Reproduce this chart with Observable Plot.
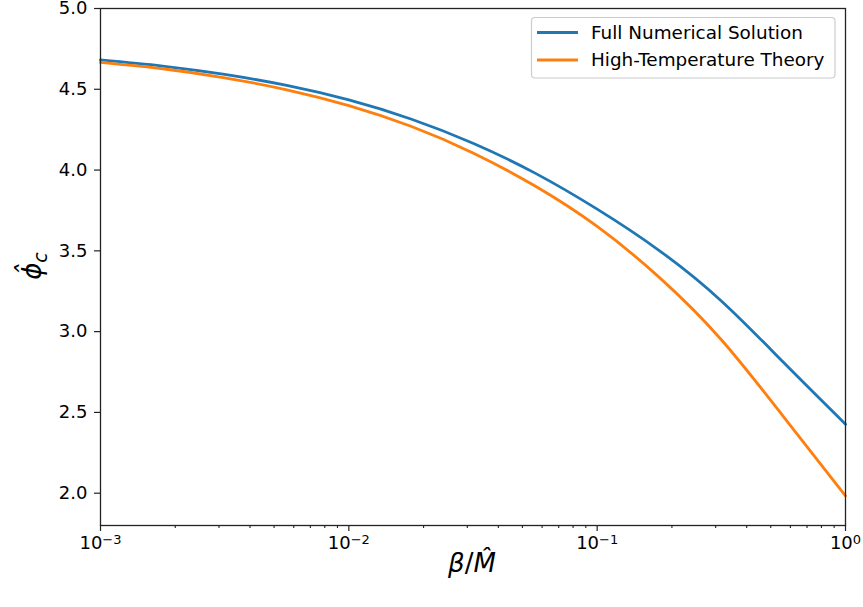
<!DOCTYPE html>
<html>
<head>
<meta charset="utf-8">
<script src="https://cdn.jsdelivr.net/npm/d3@7"></script>
<script src="https://cdn.jsdelivr.net/npm/@observablehq/plot@0.6"></script>
<style>
  html, body { margin: 0; padding: 0; background: white; }
  #chart svg { display: block; }
</style>
</head>
<body>
<div id="chart"></div>
<script>
// log10 of beta / M-hat at which the curves were read
const logBeta = [-3, -2.75, -2.5, -2.25, -2, -1.75, -1.5, -1.25, -1, -0.75, -0.5, -0.25, 0];
// phi_c values
const fullNumerical = [4.682, 4.644, 4.592, 4.524, 4.434, 4.316, 4.166, 3.981, 3.758, 3.502, 3.190, 2.810, 2.427];
const highTemperature = [4.667, 4.627, 4.571, 4.497, 4.399, 4.271, 4.106, 3.901, 3.651, 3.336, 2.950, 2.474, 1.984];
const seriesNames = ["Full Numerical Solution", "High-Temperature Theory"];
const xMajorTicks = [1e-3, 1e-2, 1e-1, 1];
const xMinorTicks = [2,3,4,5,6,7,8,9].flatMap(m => [1e-3, 1e-2, 1e-1].map(p => m * p));
const yTicks = [2.0, 2.5, 3.0, 3.5, 4.0, 4.5, 5.0];

const colors = ["#1f77b4", "#ff7f0e"];

const table = [];
logBeta.forEach((lb, i) => {
  table.push({beta: Math.pow(10, lb), phi: fullNumerical[i], series: seriesNames[0]});
  table.push({beta: Math.pow(10, lb), phi: highTemperature[i], series: seriesNames[1]});
});

const expOf = d => Math.round(Math.log10(d));
const fmtPow = d => "10^" + String(expOf(d)).replace("-", "\u2212");

const chart = Plot.plot({
  width: 863,
  height: 607,
  marginLeft: 100,
  marginRight: 18,
  marginTop: 8,
  marginBottom: 82,
  style: {fontFamily: "DejaVu Sans", fontSize: "18px", background: "white", color: "black", overflow: "visible"},
  x: {type: "log", domain: [1e-3, 1], label: null},
  y: {domain: [1.8, 5.0], label: null},
  color: {domain: seriesNames, range: colors},
  marks: [
    Plot.line(table, {x: "beta", y: "phi", z: "series", stroke: "series", strokeWidth: 2.8, curve: "natural"}),
    Plot.frame({stroke: "#222", strokeWidth: 1.3}),
    Plot.axisX(xMinorTicks, {tickSize: 3, tickFormat: () => "", label: null, stroke: "#222", strokeWidth: 1.1}),
    Plot.axisX(xMajorTicks, {tickSize: 6, tickPadding: 5, tickFormat: fmtPow, label: null, stroke: "#222", strokeWidth: 1.2}),
    Plot.axisY(yTicks, {tickSize: 6, tickPadding: 7, tickFormat: d3.format(".1f"), label: null, stroke: "#222", strokeWidth: 1.2})
  ]
});

document.getElementById("chart").appendChild(chart);

const svg = d3.select(chart);

// render "10^e" tick labels as base + raised exponent
svg.selectAll("text").each(function() {
  const t = d3.select(this);
  const s = t.text();
  if (/^10\^/.test(s)) {
    const e = s.slice(3);
    t.text("");
    t.append("tspan").text("10");
    t.append("tspan").attr("dy", "-0.42em").style("font-size", "13px").text(e);
  }
});

// axis labels
const xl = svg.append("text")
  .attr("transform", "translate(472,572)")
  .attr("text-anchor", "middle")
  .attr("fill", "black")
  .style("font-family", "DejaVu Sans")
  .style("font-size", "26px");
xl.append("tspan").style("font-style", "italic").text("\u03B2");
xl.append("tspan").text("/");
xl.append("tspan").style("font-style", "italic").text("M\u0302");

const yl = svg.append("text")
  .attr("transform", "translate(41,266) rotate(-90)")
  .attr("text-anchor", "middle")
  .attr("fill", "black")
  .style("font-family", "DejaVu Sans")
  .style("font-size", "26px")
  .style("font-style", "italic");
yl.append("tspan").text("\u03D5\u0302");
yl.append("tspan").attr("dy", "0.3em").style("font-size", "19px").text("c");

// legend
const lg = svg.append("g").attr("text-anchor", "start");
lg.append("rect")
  .attr("x", 531.5).attr("y", 17.5).attr("width", 303.5).attr("height", 60.5)
  .attr("rx", 3.5)
  .attr("fill", "white").attr("fill-opacity", 0.8)
  .attr("stroke", "#cccccc").attr("stroke-width", 1.2);
seriesNames.forEach((name, i) => {
  const cy = 32.5 + i * 27.5;
  lg.append("line")
    .attr("x1", 537).attr("x2", 578).attr("y1", cy).attr("y2", cy)
    .attr("stroke", colors[i]).attr("stroke-width", 2.8);
  lg.append("text")
    .attr("x", 591).attr("y", cy + 6.3)
    .attr("text-anchor", "start")
    .attr("fill", "black")
    .style("font-family", "DejaVu Sans")
    .style("font-size", "18.4px")
    .text(name);
});
</script>
</body>
</html>
